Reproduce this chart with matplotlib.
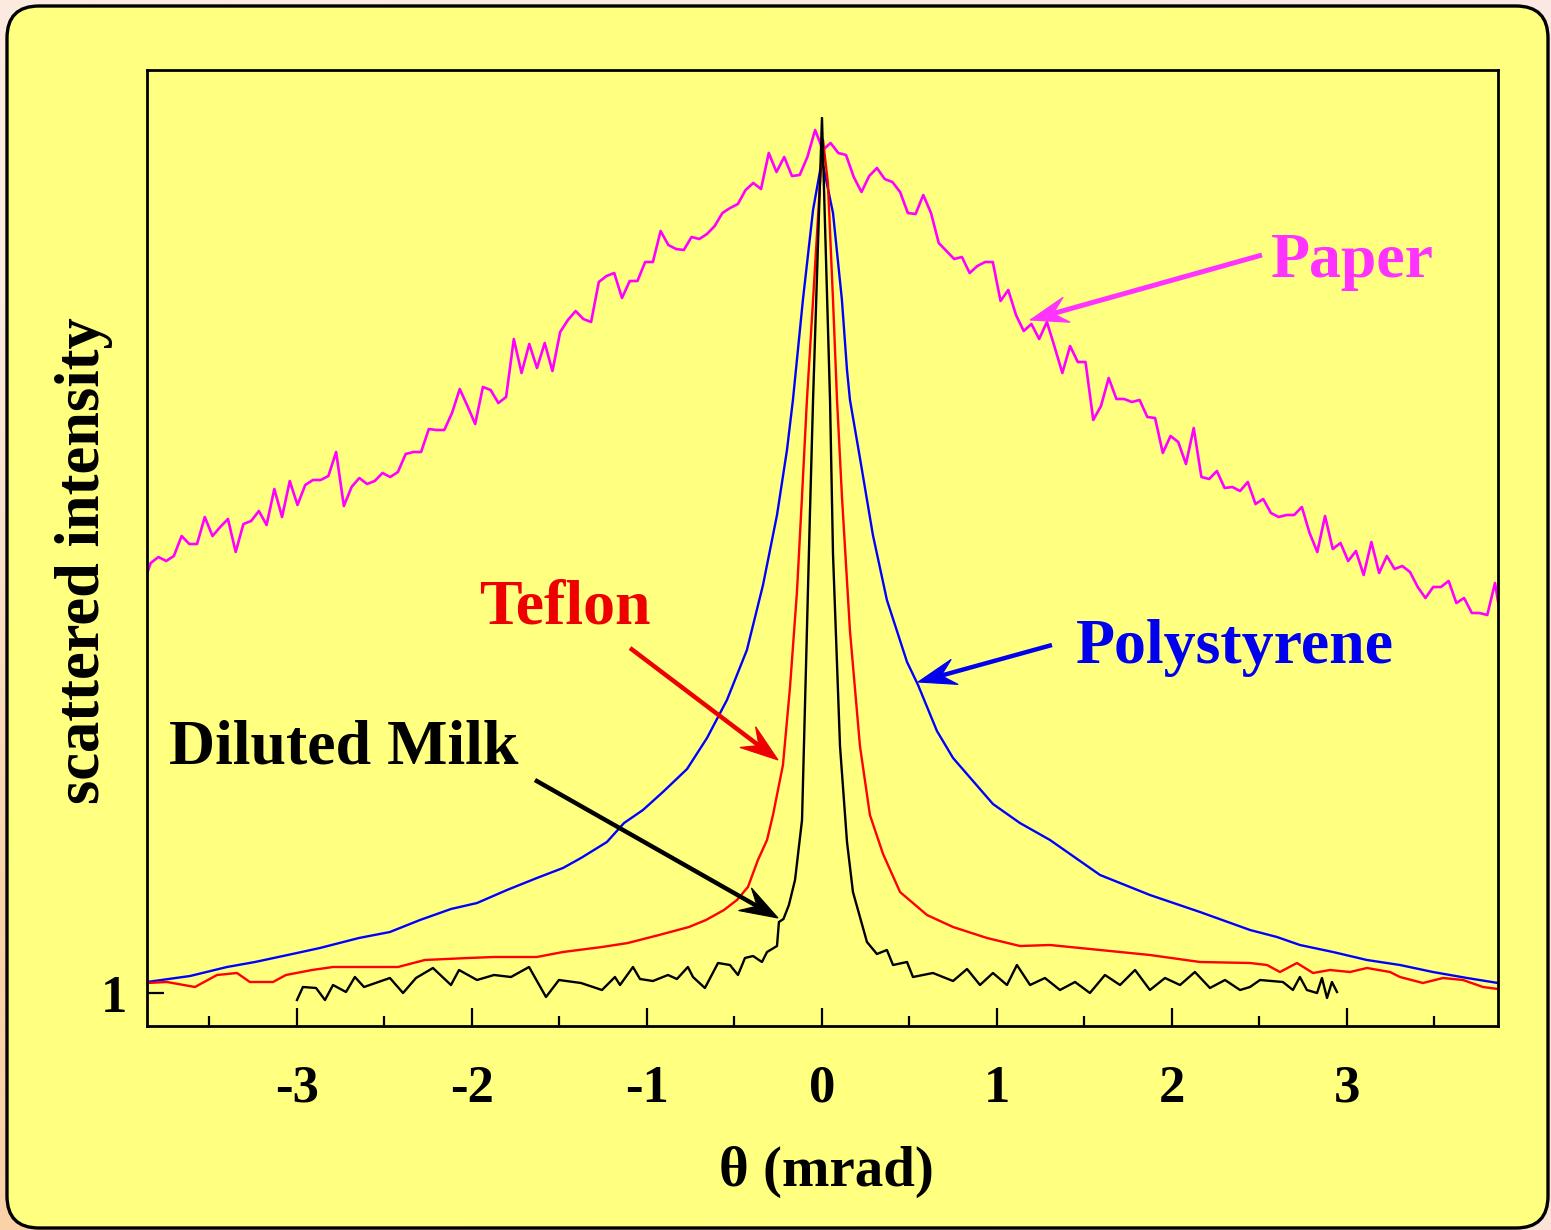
import numpy as np
import matplotlib.pyplot as plt
from matplotlib.patches import FancyBboxPatch, Polygon

plt.rcParams["font.family"] = ["Liberation Serif", "DejaVu Serif"]
plt.rcParams["font.weight"] = "bold"

# Paper: evenly sampled trace, theta from -3.88 to 3.89 mrad
paper_x_range = (-3.88, 3.89)
paper_y = [5.08, 5.30, 5.36, 5.32, 5.37, 5.57, 5.49, 5.49, 5.76, 5.57, 5.66, 5.74, 5.41, 5.69,
           5.72, 5.82, 5.68, 6.04, 5.76, 6.12, 5.88, 6.08, 6.13, 6.13, 6.17, 6.41, 5.87, 6.06,
           6.15, 6.09, 6.12, 6.20, 6.16, 6.21, 6.39, 6.41, 6.41, 6.64, 6.63, 6.63, 6.80, 7.04,
           6.87, 6.69, 7.06, 7.03, 6.90, 6.96, 7.54, 7.20, 7.49, 7.25, 7.50, 7.22, 7.61, 7.73,
           7.82, 7.74, 7.71, 8.11, 8.17, 8.20, 7.95, 8.12, 8.12, 8.31, 8.31, 8.62, 8.48, 8.44,
           8.43, 8.56, 8.54, 8.59, 8.67, 8.80, 8.85, 8.89, 9.03, 9.10, 9.04, 9.40, 9.21, 9.36,
           9.17, 9.18, 9.36, 9.63, 9.43, 9.50, 9.40, 9.38, 9.16, 9.01, 9.17, 9.25, 9.14, 9.11,
           9.01, 8.80, 8.79, 8.98, 8.80, 8.50, 8.42, 8.34, 8.36, 8.20, 8.27, 8.31, 8.31, 7.92,
           8.03, 7.78, 7.62, 7.69, 7.54, 7.71, 7.46, 7.20, 7.47, 7.31, 7.31, 6.73, 6.87, 7.15,
           6.94, 6.94, 6.91, 6.93, 6.76, 6.75, 6.40, 6.57, 6.51, 6.29, 6.65, 6.16, 6.14, 6.22,
           6.05, 6.06, 6.02, 6.11, 5.89, 5.94, 5.80, 5.76, 5.78, 5.78, 5.86, 5.60, 5.41, 5.77,
           5.44, 5.50, 5.32, 5.42, 5.18, 5.51, 5.20, 5.37, 5.24, 5.27, 5.21, 5.06, 4.95, 5.06,
           5.06, 5.12, 4.90, 4.95, 4.80, 4.80, 4.78, 5.10, 4.63]

poly_x = [-3.857, -3.611, -3.400, -3.240, -3.000, -2.869, -2.646, -2.469, -2.297, -2.120,
          -1.971, -1.800, -1.629, -1.480, -1.377, -1.229, -1.131, -1.023, -0.909, -0.771,
          -0.657, -0.543, -0.429, -0.337, -0.257, -0.200, -0.166, -0.109, -0.051, 0.000,
          0.063, 0.114, 0.143, 0.160, 0.217, 0.291, 0.371, 0.486, 0.549, 0.657, 0.749,
          0.863, 0.977, 1.131, 1.303, 1.589, 1.874, 2.160, 2.446, 2.600, 2.731, 2.920,
          3.114, 3.303, 3.491, 3.686, 3.863]
poly_y = [1.11, 1.17, 1.26, 1.31, 1.40, 1.45, 1.55, 1.61, 1.73, 1.84,
          1.90, 2.03, 2.15, 2.25, 2.35, 2.51, 2.70, 2.83, 3.01, 3.24,
          3.55, 3.93, 4.43, 5.08, 5.78, 6.43, 6.93, 7.93, 8.83, 9.33,
          8.80, 7.93, 7.23, 6.93, 6.35, 5.58, 4.93, 4.31, 4.08, 3.62, 3.35,
          3.12, 2.89, 2.70, 2.53, 2.18, 1.98, 1.81, 1.63, 1.56, 1.48, 1.41,
          1.33, 1.28, 1.21, 1.15, 1.10]

teflon_x = [-3.857, -3.743, -3.583, -3.457, -3.343, -3.269, -3.137, -3.063, -2.914, -2.794,
            -2.617, -2.423, -2.269, -2.023, -1.874, -1.629, -1.480, -1.257, -1.109, -0.931,
            -0.760, -0.663, -0.560, -0.486, -0.423, -0.366, -0.314, -0.280, -0.223, -0.183,
            -0.143, -0.114, -0.086, -0.051, -0.011, 0.006, 0.034, 0.063, 0.086, 0.114,
            0.160, 0.217, 0.274, 0.349, 0.446, 0.600, 0.749, 0.943, 1.131, 1.303,
            1.589, 1.874, 2.160, 2.446, 2.543, 2.617, 2.714, 2.806, 2.903, 3.017,
            3.114, 3.246, 3.303, 3.434, 3.549, 3.663, 3.777, 3.863]
teflon_y = [1.10, 1.11, 1.06, 1.18, 1.20, 1.11, 1.11, 1.18, 1.23, 1.26,
            1.26, 1.26, 1.33, 1.35, 1.36, 1.36, 1.41, 1.46, 1.50, 1.58,
            1.66, 1.73, 1.83, 1.93, 2.06, 2.33, 2.53, 2.78, 3.28, 4.05,
            5.01, 5.97, 6.93, 7.93, 9.10, 9.53, 9.10, 7.93, 6.93, 5.97,
            4.62, 3.47, 2.78, 2.39, 2.01, 1.78, 1.66, 1.55, 1.47, 1.48,
            1.43, 1.38, 1.31, 1.30, 1.28, 1.21, 1.30, 1.20, 1.23, 1.21,
            1.25, 1.21, 1.16, 1.10, 1.15, 1.13, 1.06, 1.04]

milk_x = [-3.000, -2.966, -2.891, -2.840, -2.794, -2.720, -2.669, -2.617, -2.469, -2.394,
          -2.320, -2.223, -2.120, -2.074, -1.971, -1.874, -1.777, -1.674, -1.577, -1.503,
          -1.377, -1.257, -1.183, -1.154, -1.080, -1.040, -0.966, -0.880, -0.829, -0.766,
          -0.737, -0.669, -0.594, -0.526, -0.480, -0.440, -0.394, -0.343, -0.314, -0.257,
          -0.246, -0.220, -0.189, -0.154, -0.114, -0.069, -0.051, 0.000,
          0.046, 0.063, 0.103, 0.143, 0.177, 0.257, 0.314, 0.371, 0.406, 0.486,
          0.520, 0.634, 0.749, 0.829, 0.903, 0.977, 1.057, 1.114, 1.189, 1.274,
          1.360, 1.446, 1.531, 1.617, 1.703, 1.789, 1.874, 1.960, 2.046, 2.131,
          2.217, 2.303, 2.389, 2.446, 2.503, 2.634, 2.691, 2.731, 2.771, 2.829,
          2.857, 2.886, 2.914, 2.943]
milk_y = [0.93, 1.06, 1.05, 0.93, 1.08, 1.01, 1.16, 1.06, 1.15, 1.00,
          1.15, 1.25, 1.08, 1.23, 1.13, 1.18, 1.16, 1.26, 0.96, 1.13,
          1.10, 1.03, 1.16, 1.08, 1.26, 1.14, 1.12, 1.18, 1.14, 1.26,
          1.16, 1.05, 1.30, 1.28, 1.18, 1.35, 1.37, 1.31, 1.41, 1.47,
          1.71, 1.74, 1.88, 2.13, 2.73, 5.78, 6.93, 9.75,
          6.93, 5.39, 3.47, 2.51, 2.01, 1.51, 1.39, 1.43, 1.28, 1.31,
          1.16, 1.20, 1.12, 1.24, 1.08, 1.20, 1.08, 1.28, 1.08, 1.15,
          1.03, 1.11, 1.00, 1.18, 1.08, 1.23, 1.03, 1.15, 1.08, 1.21,
          1.05, 1.13, 1.03, 1.06, 1.13, 1.11, 1.03, 1.16, 1.03, 1.00,
          1.15, 0.95, 1.11, 1.01]

xticks = [-3, -2, -1, 0, 1, 2, 3]
xtick_labels = ["-3", "-2", "-1", "0", "1", "2", "3"]

YELLOW = "#ffff80"

fig = plt.figure(figsize=(15.51, 12.30), dpi=100)

# backdrop in pixel units: peach gradient with a rounded yellow panel
bg = fig.add_axes([0, 0, 1, 1])
bg.set_xlim(0, 1551)
bg.set_ylim(1230, 0)
grad = np.array([[[252, 234, 224], [251, 232, 226]],
                 [[250, 210, 168], [251, 228, 215]]]) / 255.0
bg.imshow(grad, extent=[0, 1551, 1230, 0], aspect="auto", interpolation="bilinear")
panel = FancyBboxPatch((7, 6), 1541, 1222, boxstyle="round,pad=0,rounding_size=32",
                       facecolor=YELLOW, edgecolor="black", linewidth=2.4)
bg.add_patch(panel)
bg.axis("off")
bg.set_zorder(0)

ax = fig.add_axes([147 / 1551, 1 - 1026 / 1230, 1351 / 1551, 956 / 1230])
ax.set_facecolor(YELLOW)
ax.set_zorder(1)

paper_x = np.linspace(paper_x_range[0], paper_x_range[1], len(paper_y))
ax.plot(paper_x, paper_y, color="#ff00ff", lw=1.9)
ax.plot(poly_x, poly_y, color="#0000ff", lw=1.7)
ax.plot(teflon_x, teflon_y, color="#ff0000", lw=1.7)
ax.plot(milk_x, milk_y, color="black", lw=1.7)

ax.set_xlim(-3.857, 3.863)
ax.set_ylim(0.67, 10.23)

ax.set_xticks(xticks)
ax.set_xticklabels(xtick_labels)
ax.set_xticks(np.arange(-3.5, 3.6, 1.0), minor=True)
ax.set_yticks([1])
ax.set_yticklabels(["1"])
ax.tick_params(axis="x", which="major", direction="in", length=13, width=1.6,
               labelsize=38, pad=28)
ax.tick_params(axis="x", which="minor", direction="in", length=7, width=1.6)
ax.tick_params(axis="y", which="major", direction="in", length=12, width=1.6,
               labelsize=38, pad=14)
for lab in ax.get_xticklabels() + ax.get_yticklabels():
    lab.set_fontweight("bold")
for sp in ax.spines.values():
    sp.set_linewidth(2.0)

ax.set_xlabel("θ (mrad)", fontsize=41, fontweight="bold")
ax.xaxis.set_label_coords(0.503, -0.125)
ax.set_ylabel("scattered intensity", fontsize=45, fontweight="bold")
ax.yaxis.set_label_coords(-0.025, 0.487)

# sample names and where their pointers start / end (theta, intensity)
notes = [
    ("Paper", "#ff33ff", (3.03, 8.31), (2.514, 8.38), (1.189, 7.73), 3.6),
    ("Polystyrene", "#0000ee", (2.36, 4.45), (1.314, 4.48), (0.549, 4.11), 3.2),
    ("Teflon", "#ee0000", (-1.469, 4.85), (-1.097, 4.45), (-0.251, 3.33), 3.2),
    ("Diluted Milk", "black", (-2.731, 3.45), (-1.64, 3.13), (-0.251, 1.75), 3.2),
]
for name, col, txy, start, tip, lw in notes:
    ax.text(txy[0], txy[1], name, color=col, fontsize=46, fontweight="bold",
            ha="center", va="center")

# pointers go on a transparent overlay in pixel units
over = fig.add_axes([0, 0, 1, 1], facecolor="none")
over.set_xlim(0, 1551)
over.set_ylim(1230, 0)
over.axis("off")
over.set_zorder(2)


def pointer(start, tip, col, lw, head_len=38, head_w=13, notch=24):
    # shaft plus a notched head
    to_px = lambda p: over.transData.inverted().transform(ax.transData.transform(p))
    s, t = to_px(start), to_px(tip)
    u = (t - s) / np.hypot(*(t - s))
    n = np.array([-u[1], u[0]])
    back = t - notch * u
    over.plot([s[0], back[0] + 4 * u[0]], [s[1], back[1] + 4 * u[1]],
              color=col, lw=lw, solid_capstyle="butt")
    head = [t, t - head_len * u + head_w * n, back, t - head_len * u - head_w * n]
    over.add_patch(Polygon(head, closed=True, facecolor=col, edgecolor=col, lw=0.8))


for name, col, txy, start, tip, lw in notes:
    pointer(start, tip, col, lw)

fig.savefig("out.png", dpi=100)
